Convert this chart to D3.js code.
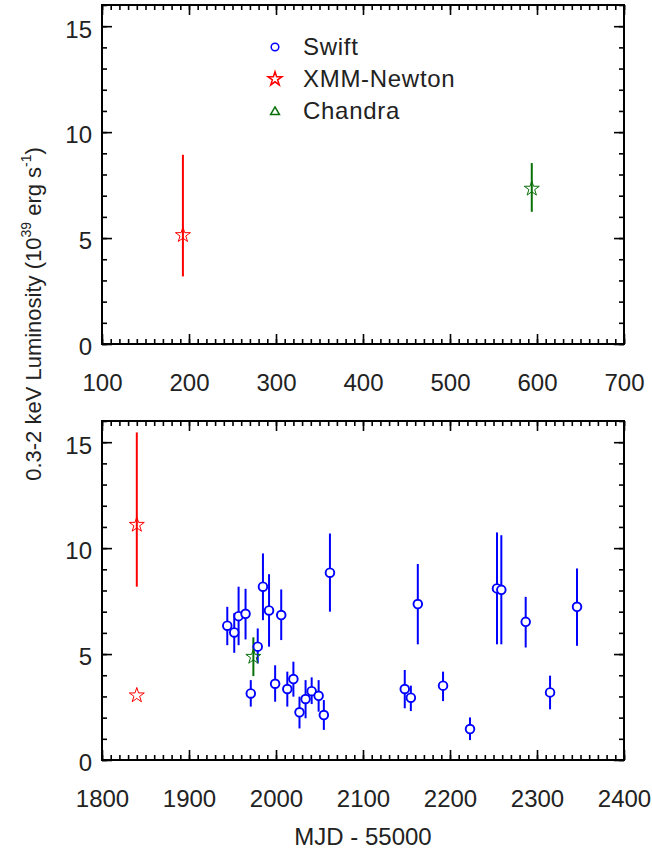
<!DOCTYPE html>
<html>
<head>
<meta charset="utf-8">
<script src="https://cdn.jsdelivr.net/npm/d3@7"></script>
<style>
  body { margin: 0; background: #fff; }
  text { font-family: "Liberation Sans", Arial, sans-serif; fill: #222; }
</style>
</head>
<body>
<div id="chart"></div>
<script>
// Swift points (MJD - 55000, luminosity in 1e39 erg/s, error bar ends)
const swiftMjd = [1944, 1952, 1957, 1965, 1971, 1979, 1985, 1992, 1999, 2006, 2013, 2020, 2027, 2034,
                  2041, 2049, 2055, 2062, 2148, 2155, 2163, 2192, 2223, 2254, 2259, 2287, 2315, 2346];
const swiftLum = [6.34, 6.02, 6.79, 6.9, 3.14, 5.35, 8.18, 7.06, 3.6, 6.84, 3.35, 3.82, 2.25, 2.88,
                  3.25, 3.03, 2.12, 8.84, 3.35, 2.94, 7.36, 3.51, 1.46, 8.1, 8.03, 6.52, 3.19, 7.23];
const swiftHi  = [7.23, 6.93, 8.18, 8.08, 3.77, 6.21, 9.75, 8.77, 4.47, 8.05, 4.17, 4.64, 2.99, 3.77,
                  3.9, 3.77, 2.83, 10.69, 4.25, 3.51, 9.25, 4.17, 2.01, 10.74, 10.61, 7.7, 3.98, 9.04];
const swiftLo  = [5.42, 5.06, 5.42, 5.69, 2.52, 4.56, 6.6, 5.35, 2.75, 5.66, 2.52, 2.99, 1.49, 1.97,
                  2.64, 2.28, 1.42, 7.0, 2.44, 2.31, 5.46, 2.78, 0.94, 5.46, 5.46, 5.31, 2.39, 5.39];

const xmmMjd = [193, 1840, 1840];
const xmmLum = [5.14, 11.1, 3.05];
const xmmHi  = [8.93, 15.46, null];
const xmmLo  = [3.19, 8.18, null];

const chandraMjd = [594, 1974];
const chandraLum = [7.33, 4.87];
const chandraHi  = [8.54, 5.79];
const chandraLo  = [6.24, 3.96];

const topDomain = [100, 700];
const bottomDomain = [1800, 2400];
const yDomain = [0, 16];
const yTicks = [0, 5, 10, 15];
const legendLabels = ["Swift", "XMM-Newton", "Chandra"];

const width = 652, height = 850;
const left = 102, right = 624;
const panelH = 339;
const panels = [
  { top: 5, domain: topDomain, ticks: [100, 200, 300, 400, 500, 600, 700] },
  { top: 421, domain: bottomDomain, ticks: [1800, 1900, 2000, 2100, 2200, 2300, 2400] }
];

const blue = "#0000ff", red = "#ff0000", green = "#087008";

const svg = d3.select("#chart").append("svg")
  .attr("width", width)
  .attr("height", height);

const swift = swiftMjd.map((d, i) => ({ x: d, y: swiftLum[i], hi: swiftHi[i], lo: swiftLo[i] }));
const xmm = xmmMjd.map((d, i) => ({ x: d, y: xmmLum[i], hi: xmmHi[i], lo: xmmLo[i] }));
const chandra = chandraMjd.map((d, i) => ({ x: d, y: chandraLum[i], hi: chandraHi[i], lo: chandraLo[i] }));

const star = d3.symbol().type(d3.symbolStar).size(70);

panels.forEach(p => {
  const x = d3.scaleLinear().domain(p.domain).range([left, right]);
  const y = d3.scaleLinear().domain(yDomain).range([p.top + panelH, p.top]);
  const g = svg.append("g");
  const minorX = d3.range(p.domain[0], p.domain[1] + 1, 10);
  const minorY = d3.range(0, 17, 1);

  const styleAxis = a => {
    a.select(".domain").remove();
    a.selectAll("line").attr("stroke", "#000").attr("stroke-width", 1.6);
  };

  // minor ticks
  g.append("g").attr("transform", `translate(0,${p.top + panelH})`)
    .call(d3.axisBottom(x).tickValues(minorX).tickSize(-5).tickFormat("")).call(styleAxis);
  g.append("g").attr("transform", `translate(0,${p.top})`)
    .call(d3.axisTop(x).tickValues(minorX).tickSize(-5).tickFormat("")).call(styleAxis);
  g.append("g").attr("transform", `translate(${left},0)`)
    .call(d3.axisLeft(y).tickValues(minorY).tickSize(-5).tickFormat("")).call(styleAxis);
  g.append("g").attr("transform", `translate(${right},0)`)
    .call(d3.axisRight(y).tickValues(minorY).tickSize(-5).tickFormat("")).call(styleAxis);

  // major ticks
  g.append("g").attr("transform", `translate(0,${p.top + panelH})`)
    .call(d3.axisBottom(x).tickValues(p.ticks).tickSize(-10).tickPadding(30).tickFormat(d3.format("d")))
    .call(styleAxis)
    .call(a => a.selectAll("text").attr("font-size", 24).attr("fill", "#222"));
  g.append("g").attr("transform", `translate(0,${p.top})`)
    .call(d3.axisTop(x).tickValues(p.ticks).tickSize(-10).tickFormat("")).call(styleAxis);
  g.append("g").attr("transform", `translate(${left},0)`)
    .call(d3.axisLeft(y).tickValues(yTicks).tickSize(-10).tickPadding(10).tickFormat(d3.format("d")))
    .call(styleAxis)
    .call(a => a.selectAll("text").attr("font-size", 24).attr("dy", "0.45em").attr("fill", "#222"));
  g.append("g").attr("transform", `translate(${right},0)`)
    .call(d3.axisRight(y).tickValues(yTicks).tickSize(-10).tickFormat("")).call(styleAxis);

  g.append("rect")
    .attr("x", left).attr("y", p.top)
    .attr("width", right - left).attr("height", panelH)
    .attr("fill", "none").attr("stroke", "#000").attr("stroke-width", 2);

  const inRange = d => d.x >= p.domain[0] && d.x <= p.domain[1];

  const drawBars = (data, color, w) => {
    g.selectAll(null).data(data.filter(d => inRange(d) && d.hi != null)).join("line")
      .attr("x1", d => x(d.x)).attr("x2", d => x(d.x))
      .attr("y1", d => y(d.hi)).attr("y2", d => y(d.lo))
      .attr("stroke", color).attr("stroke-width", w);
  };

  drawBars(swift, blue, 2);
  drawBars(xmm, red, 2);
  drawBars(chandra, green, 2);

  g.selectAll(null).data(swift.filter(inRange)).join("circle")
    .attr("cx", d => x(d.x)).attr("cy", d => y(d.y)).attr("r", 4.3)
    .attr("fill", "#fff").attr("stroke", blue).attr("stroke-width", 1.9);

  g.selectAll(null).data(xmm.filter(inRange)).join("path")
    .attr("d", star)
    .attr("transform", d => `translate(${x(d.x)},${y(d.y)})`)
    .attr("fill", "none").attr("stroke", red).attr("stroke-width", 1);

  g.selectAll(null).data(chandra.filter(inRange)).join("path")
    .attr("d", star)
    .attr("transform", d => `translate(${x(d.x)},${y(d.y)})`)
    .attr("fill", "none").attr("stroke", green).attr("stroke-width", 1);
});

// legend
const legend = svg.append("g");
const legendY = [47, 79, 111];
legend.append("circle").attr("cx", 275).attr("cy", legendY[0]).attr("r", 3.8)
  .attr("fill", "none").attr("stroke", blue).attr("stroke-width", 1.5);
legend.append("path").attr("d", d3.symbol().type(d3.symbolStar).size(60))
  .attr("transform", `translate(275,${legendY[1]})`)
  .attr("fill", "none").attr("stroke", red).attr("stroke-width", 1.5);
legend.append("path").attr("d", d3.symbol().type(d3.symbolTriangle).size(34))
  .attr("transform", `translate(275,${legendY[2] + 1})`)
  .attr("fill", "none").attr("stroke", green).attr("stroke-width", 1.5);
legend.selectAll("text").data(legendLabels).join("text")
  .attr("x", 303).attr("y", (d, i) => legendY[i]).attr("dy", "0.35em")
  .attr("font-size", 24).attr("letter-spacing", 0.7)
  .text(d => d);

// axis titles
svg.append("text")
  .attr("x", 363).attr("y", 845)
  .attr("text-anchor", "middle").attr("font-size", 24)
  .text("MJD - 55000");

const ylab = svg.append("text")
  .attr("transform", "translate(41,314) rotate(-90)")
  .attr("text-anchor", "middle").attr("font-size", 22);
ylab.append("tspan").text("0.3-2 keV Luminosity (10");
ylab.append("tspan").attr("dy", -10).attr("font-size", 14).text("39");
ylab.append("tspan").attr("dy", 10).text(" erg s");
ylab.append("tspan").attr("dy", -10).attr("font-size", 14).text("-1");
ylab.append("tspan").attr("dy", 10).text(")");
</script>
</body>
</html>
